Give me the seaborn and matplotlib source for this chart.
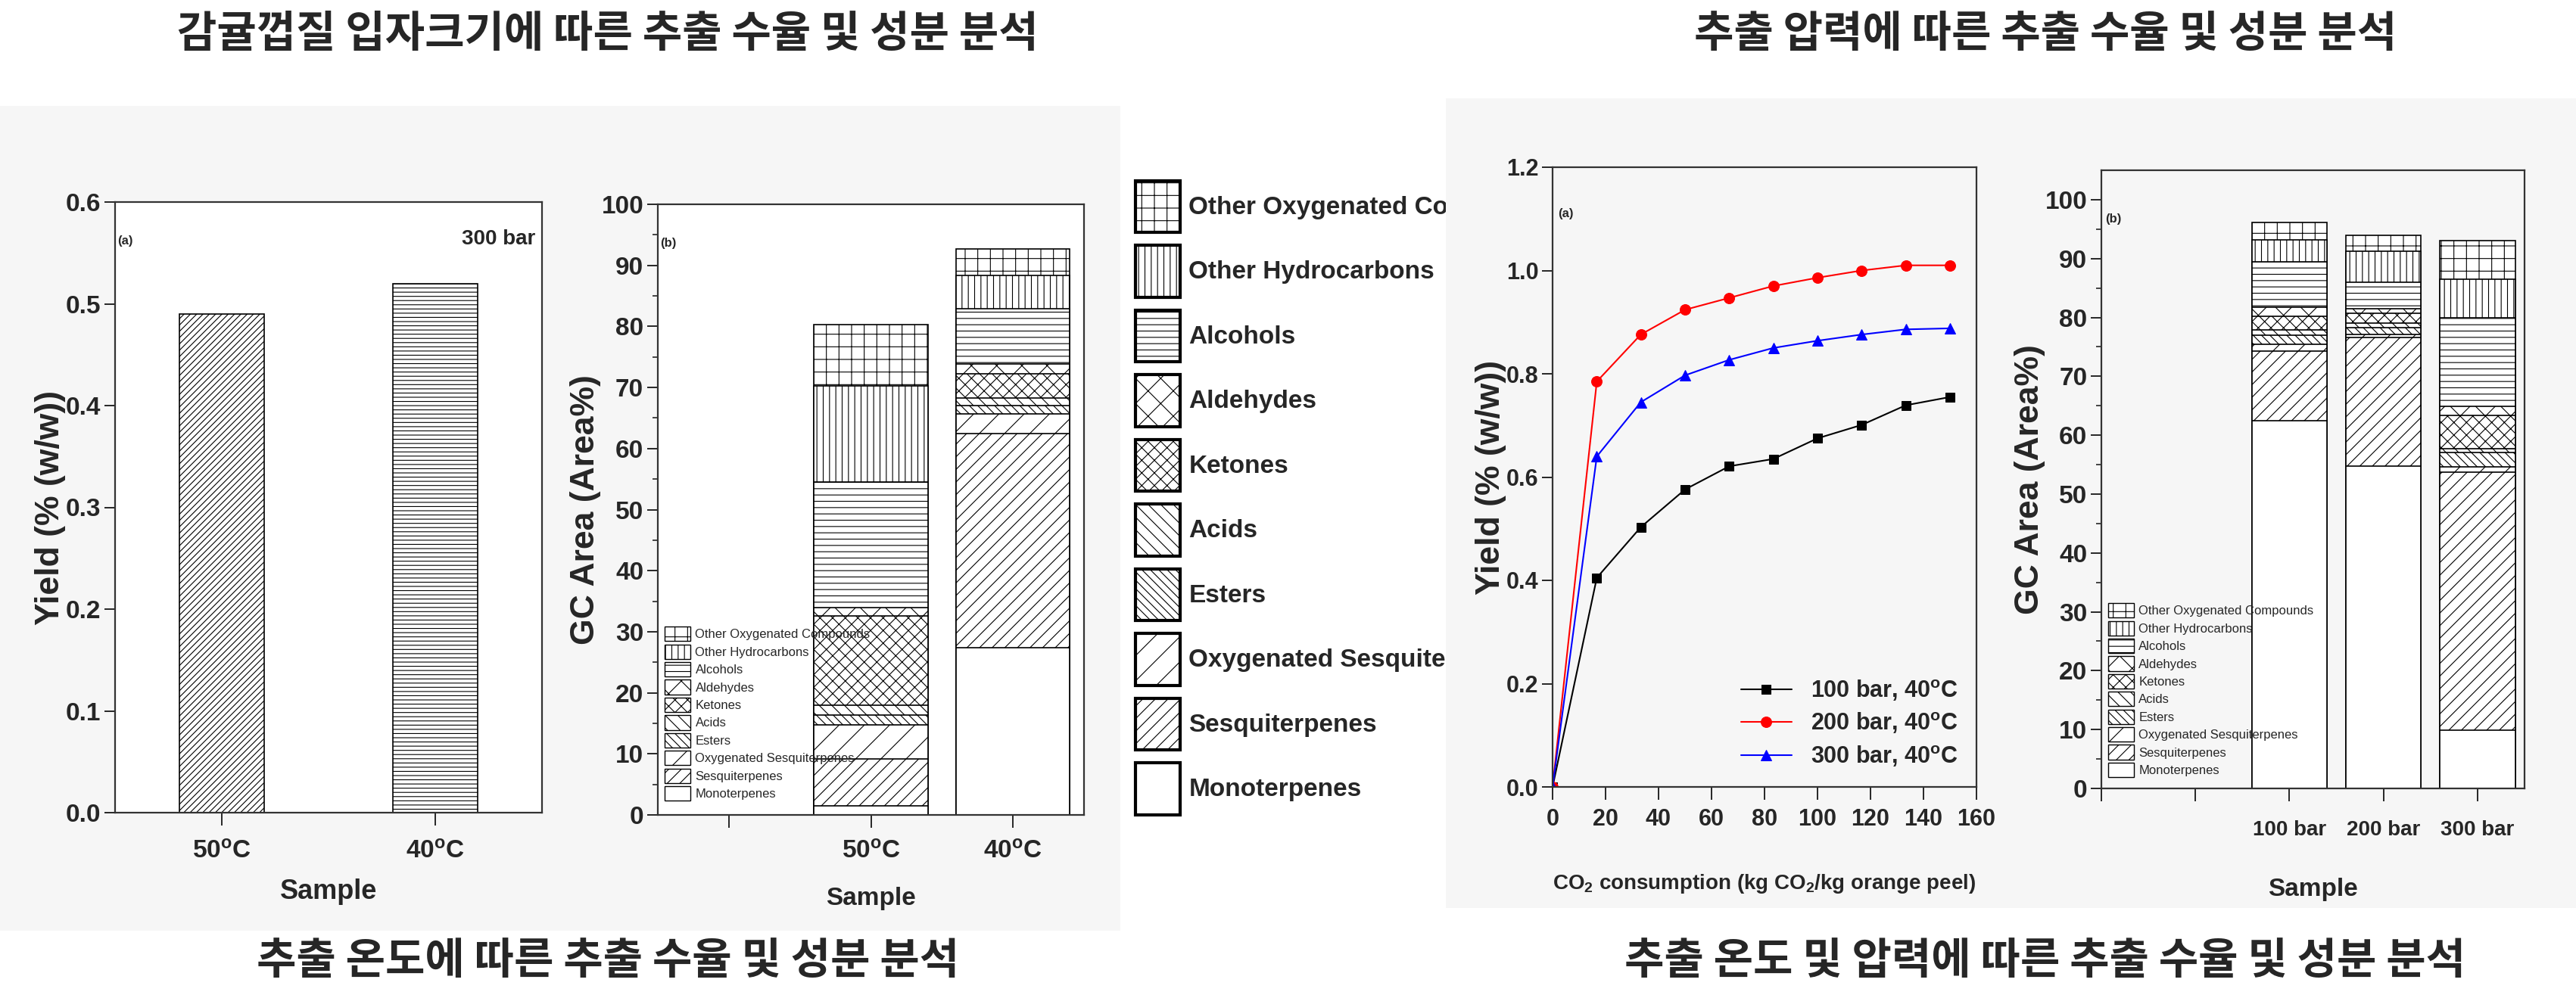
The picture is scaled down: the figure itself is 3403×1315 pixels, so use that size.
import numpy as np
import pandas as pd
import seaborn as sns
import matplotlib.pyplot as plt
import matplotlib.patches as mpatches

# ---------------------------------------------------------------
# Dados
amostras_temp = ['50°C', '40°C']
rotulos_temp = ['50$^{o}$C', '40$^{o}$C']
rend_temp = [0.49, 0.52]

componentes = ['Monoterpenes', 'Sesquiterpenes', 'Oxygenated Sesquiterpenes',
               'Esters', 'Acids', 'Ketones', 'Aldehydes', 'Alcohols',
               'Other Hydrocarbons', 'Other Oxygenated Compounds']
hachuras = ['', '//', '/', '\\\\\\', '\\\\', 'xx', 'x', '--', '||', '+']

# composição (Area%) por temperatura, na ordem de 'componentes'
comp_50 = [1.5, 7.7, 5.6, 1.6, 1.6, 14.6, 1.3, 20.6, 15.7, 10.1]
comp_40 = [27.4, 35.0, 3.3, 1.3, 1.3, 4.0, 1.6, 9.0, 5.5, 4.3]

# rendimento vs consumo de CO2
co2 = [0, 16.7, 33.3, 50, 66.7, 83.3, 100, 116.7, 133.3, 150]
y_100bar = [0, 0.405, 0.503, 0.576, 0.621, 0.635, 0.675, 0.701, 0.739, 0.755]
y_200bar = [0, 0.785, 0.876, 0.924, 0.947, 0.970, 0.986, 1.000, 1.010, 1.010]
y_300bar = [0, 0.640, 0.745, 0.797, 0.827, 0.850, 0.864, 0.876, 0.886, 0.888]

# composição por pressão
pressoes = ['100 bar', '200 bar', '300 bar']
comp_100 = [62.5, 11.8, 1.2, 1.5, 0.9, 2.3, 1.5, 7.7, 3.8, 2.9]
comp_200 = [54.7, 21.9, 0.5, 1.2, 0.7, 1.7, 0.8, 4.5, 5.3, 2.6]
comp_300 = [9.9, 43.8, 0.9, 2.4, 0.7, 5.6, 1.6, 15.0, 6.6, 6.6]

titulos = ['감귤껍질 입자크기에 따른 추출 수율 및 성분 분석',
           '추출 압력에 따른 추출 수율 및 성분 분석',
           '추출 온도에 따른 추출 수율 및 성분 분석',
           '추출 온도 및 압력에 따른 추출 수율 및 성분 분석']

# ---------------------------------------------------------------
sns.set_style('ticks')
plt.rcParams['font.family'] = ['Liberation Sans', 'DejaVu Sans']
plt.rcParams['font.weight'] = 'bold'
plt.rcParams['axes.labelweight'] = 'bold'
plt.rcParams['mathtext.fontset'] = 'custom'
plt.rcParams['mathtext.rm'] = 'Liberation Sans:bold'
plt.rcParams['mathtext.it'] = 'Liberation Sans:bold'
plt.rcParams['mathtext.bf'] = 'Liberation Sans:bold'
plt.rcParams['mathtext.default'] = 'rm'
plt.rcParams['hatch.linewidth'] = 0.8
plt.rcParams['axes.edgecolor'] = '#333333'
plt.rcParams['axes.linewidth'] = 1.6
plt.rcParams['xtick.major.width'] = 1.4
plt.rcParams['ytick.major.width'] = 1.4
plt.rcParams['xtick.major.size'] = 12
plt.rcParams['ytick.major.size'] = 10
plt.rcParams['xtick.major.pad'] = 8

W, H = 3403, 1315
fig = plt.figure(figsize=(W / 100, H / 100), dpi=100)


def caixa(x0, y0, x1, y1):
    # converte pixels da imagem (origem no topo) para fração da figura
    return [x0 / W, 1 - y1 / H, (x1 - x0) / W, (y1 - y0) / H]


# fundos cinza claro dos painéis
for (x0, y0, x1, y1) in [(0, 140, 1480, 1230), (1910, 130, 3403, 1200)]:
    fig.patches.append(mpatches.Rectangle((x0 / W, 1 - y1 / H), (x1 - x0) / W,
                                          (y1 - y0) / H, transform=fig.transFigure,
                                          facecolor='#f6f6f6', edgecolor='none', zorder=-5))


def empilhado(ax, ordem, nomes, composicao):
    dados = np.array(composicao)
    acumulado = np.cumsum(dados, axis=1)
    # desenha do topo para baixo, cada camada cobre a anterior
    for i in reversed(range(len(componentes))):
        df = pd.DataFrame({'Sample': nomes, 'Area': acumulado[:, i]})
        sns.barplot(data=df, x='Sample', y='Area', order=ordem, color='white',
                    saturation=1, edgecolor='black', linewidth=1.2,
                    hatch=hachuras[i], width=0.8, ax=ax, errorbar=None)


def legenda_pequena(ax, loc_xy):
    handles = [mpatches.Patch(facecolor='white', edgecolor='black', hatch=h, label=c)
               for c, h in zip(componentes, hachuras)]
    leg = ax.legend(handles=handles[::-1], loc='lower left', bbox_to_anchor=loc_xy,
                    frameon=False, fontsize=12, handlelength=2.0, handleheight=1.4,
                    labelspacing=0.25, handletextpad=0.4, borderaxespad=0)
    for t in leg.get_texts():
        t.set_fontweight('normal')


# --- painel (a): rendimento vs temperatura
ax1 = fig.add_axes(caixa(152, 267, 716, 1074))
sns.barplot(x=amostras_temp, y=rend_temp, color='white', saturation=1,
            edgecolor='black', linewidth=1.2, width=0.4, ax=ax1)
ax1.patches[0].set_hatch('////')
ax1.patches[1].set_hatch('---')
ax1.set_ylim(0, 0.6)
ax1.set_xlim(-0.5, 1.5)
ax1.set_xticks([0, 1])
ax1.set_xticklabels(rotulos_temp)
ax1.set_yticks(np.arange(0, 0.61, 0.1))
ax1.set_yticklabels([f'{v:.1f}' for v in np.arange(0, 0.61, 0.1)])
ax1.set_ylabel('Yield (% (w/w))', fontsize=32, labelpad=0)
ax1.set_xlabel('Sample', fontsize=26, labelpad=14)
ax1.tick_params(labelsize=24)
ax1.tick_params(axis='x', pad=14)
ax1.text(0.005, 0.93, '(a)', transform=ax1.transAxes, fontsize=12, fontweight='bold')
ax1.text(0.985, 0.93, '300 bar', transform=ax1.transAxes, fontsize=20,
         fontweight='bold', ha='right')

# --- painel (b): composição vs temperatura
ax2 = fig.add_axes(caixa(869, 270, 1432, 1077))
empilhado(ax2, [' ', '50°C', '40°C'], amostras_temp, [comp_50, comp_40])
ax2.set_ylim(0, 100)
ax2.set_xlim(-0.5, 2.5)
ax2.set_xticks([0, 1, 2])
ax2.set_xticklabels([''] + rotulos_temp)
ax2.set_yticks(range(0, 101, 10))
ax2.set_yticks(range(5, 100, 10), minor=True)
ax2.tick_params(which='minor', length=5, width=1.2, left=True)
ax2.set_ylabel('GC Area (Area%)', fontsize=32, labelpad=0)
ax2.set_xlabel('Sample', fontsize=24, labelpad=22)
ax2.tick_params(labelsize=24)
ax2.tick_params(axis='x', pad=12)
ax2.text(0.005, 0.93, '(b)', transform=ax2.transAxes, fontsize=12, fontweight='bold')
legenda_pequena(ax2, (0.005, 0.015))

# --- legenda grande (o texto é cortado na borda, como no original)
axl = fig.add_axes(caixa(1487, 180, 1910, 1085))
axl.axis('off')
handles = [mpatches.Patch(facecolor='white', edgecolor='black', hatch=h,
                          linewidth=3, label=c)
           for c, h in zip(componentes, hachuras)]
leg = axl.legend(handles=handles[::-1], loc='upper left', bbox_to_anchor=(0.0, 0.95),
                 frameon=False, fontsize=24, handlelength=1.75, handleheight=2.8,
                 labelspacing=0.5, handletextpad=0.35, borderaxespad=0)
for t in leg.get_texts():
    t.set_clip_box(axl.bbox)
    t.set_clip_on(True)

# --- painel (a) direito: curvas de extração
ax3 = fig.add_axes(caixa(2051, 221, 2611, 1040))
sns.lineplot(x=co2, y=y_100bar, color='black', marker='s', markersize=9,
             markeredgecolor='black', linewidth=1.5, label='100 bar, 40$^{o}$C', ax=ax3)
sns.lineplot(x=co2, y=y_200bar, color='red', marker='o', markersize=10,
             markeredgecolor='red', linewidth=1.5, label='200 bar, 40$^{o}$C', ax=ax3)
sns.lineplot(x=co2, y=y_300bar, color='blue', marker='^', markersize=10,
             markeredgecolor='blue', linewidth=1.5, label='300 bar, 40$^{o}$C', ax=ax3)
ax3.set_xlim(0, 160)
ax3.set_ylim(0, 1.2)
ax3.set_xticks(range(0, 161, 20))
ax3.set_yticks(np.arange(0, 1.21, 0.2))
ax3.set_yticklabels([f'{v:.1f}' for v in np.arange(0, 1.21, 0.2)])
ax3.set_facecolor('none')
ax3.tick_params(labelsize=22)
ax3.set_ylabel('Yield (% (w/w))', fontsize=32, labelpad=0)
ax3.set_xlabel('CO$_2$ consumption (kg CO$_2$/kg orange peel)', fontsize=20, labelpad=40)
ax3.text(0.012, 0.92, '(a)', transform=ax3.transAxes, fontsize=12, fontweight='bold')
leg3 = ax3.legend(loc='lower right', frameon=False, fontsize=22, handlelength=2.2,
                  labelspacing=0.35, borderaxespad=0.4)

# --- painel (b) direito: composição vs pressão
ax4 = fig.add_axes(caixa(2776, 225, 3335, 1042))
empilhado(ax4, ['  ', ' ', '100 bar', '200 bar', '300 bar'], pressoes,
          [comp_100, comp_200, comp_300])
ax4.set_ylim(0, 105)
ax4.set_xlim(0, 4.5)
ax4.set_yticks(range(0, 101, 10))
ax4.set_yticks(range(5, 101, 10), minor=True)
ax4.tick_params(which='minor', length=5, width=1.2, left=True)
ax4.set_facecolor('none')
ax4.set_ylabel('GC Area (Area%)', fontsize=32, labelpad=0)
ax4.set_xlabel('Sample', fontsize=24, labelpad=36)
ax4.tick_params(axis='y', labelsize=24)
ax4.tick_params(axis='x', labelsize=20, pad=18)
ax4.text(0.01, 0.915, '(b)', transform=ax4.transAxes, fontsize=12, fontweight='bold')
legenda_pequena(ax4, (0.005, 0.01))

# --- títulos em coreano
for txt, (x, y) in zip(titulos, [(803, 45), (2702, 45), (803, 1270), (2702, 1270)]):
    fig.text(x / W, 1 - y / H, txt, ha='center', va='center', fontsize=41,
             fontweight='bold', family=['Noto Sans CJK KR', 'DejaVu Sans'])

fig.savefig('out.png', dpi=100)
